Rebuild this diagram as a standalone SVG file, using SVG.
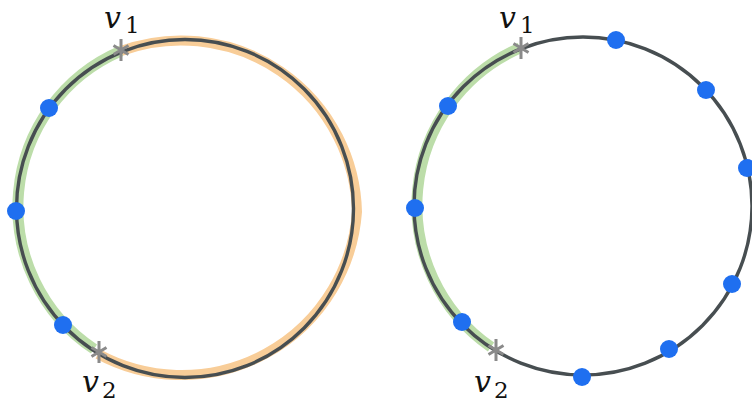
<svg xmlns="http://www.w3.org/2000/svg" width="752" height="404" viewBox="0 0 752 404">
<defs>
<style>
.curve{fill:none;stroke:#474e51;stroke-width:3.4}
.green{fill:none;stroke:#bcdda9;stroke-width:11;stroke-linecap:butt}
.orange{fill:none;stroke:#f8cd98;stroke-width:10;stroke-linecap:butt;stroke-linejoin:miter;stroke-miterlimit:10}
.dot{fill:#1f6ff0}
.star{fill:none;stroke:#8a8a8a;stroke-width:3;stroke-linecap:butt}
.lbl{font-family:"DejaVu Serif","Liberation Serif",serif;fill:#111}
.v{font-style:italic;font-size:30px}
.sub{font-size:23px}
</style>
<path id="ast" class="star" d="M0,-11 V11 M-7.5,-4.5 L7.5,4.5 M-7.5,4.5 L7.5,-4.5"/>
</defs>
<g id="connectors">
<!-- left figure -->
<path class="orange" d="M121,51 A176 176 0 0 1 357,212 A176 176 0 0 1 98,354"/>
<path class="green" d="M121,51 A170 170 0 0 0 94,349"/>
<ellipse class="curve" cx="185" cy="208.5" rx="168.5" ry="169"/>
<!-- right figure -->
<path class="green" d="M520,48 A172 172 0 0 0 491,347"/>
<circle class="curve" cx="583" cy="206" r="169"/>
</g>
<g id="left-dot-1"><circle class="dot" cx="49" cy="108" r="9"/></g>
<g id="left-dot-2"><circle class="dot" cx="16" cy="211" r="9"/></g>
<g id="left-dot-3"><circle class="dot" cx="63" cy="325" r="9"/></g>
<g id="left-v1"><use href="#ast" x="121" y="50"/>
<text class="lbl v" x="104" y="28">v</text><text class="lbl sub" x="125" y="33">1</text></g>
<g id="left-v2"><use href="#ast" x="99" y="352"/>
<text class="lbl v" x="82" y="392">v</text><text class="lbl sub" x="102" y="398">2</text></g>
<g id="right-dot-1"><circle class="dot" cx="448" cy="106" r="9"/></g>
<g id="right-dot-2"><circle class="dot" cx="415" cy="208" r="9"/></g>
<g id="right-dot-3"><circle class="dot" cx="462" cy="322" r="9"/></g>
<g id="right-dot-4"><circle class="dot" cx="616" cy="40" r="9"/></g>
<g id="right-dot-5"><circle class="dot" cx="706" cy="90" r="9"/></g>
<g id="right-dot-6"><circle class="dot" cx="747" cy="168" r="9"/></g>
<g id="right-dot-7"><circle class="dot" cx="732" cy="284" r="9"/></g>
<g id="right-dot-8"><circle class="dot" cx="669" cy="349" r="9"/></g>
<g id="right-dot-9"><circle class="dot" cx="582" cy="377" r="9"/></g>
<g id="right-v1"><use href="#ast" x="521" y="48"/>
<text class="lbl v" x="499" y="28">v</text><text class="lbl sub" x="520" y="33">1</text></g>
<g id="right-v2"><use href="#ast" x="496" y="350"/>
<text class="lbl v" x="474" y="392">v</text><text class="lbl sub" x="494" y="398">2</text></g>
</svg>
